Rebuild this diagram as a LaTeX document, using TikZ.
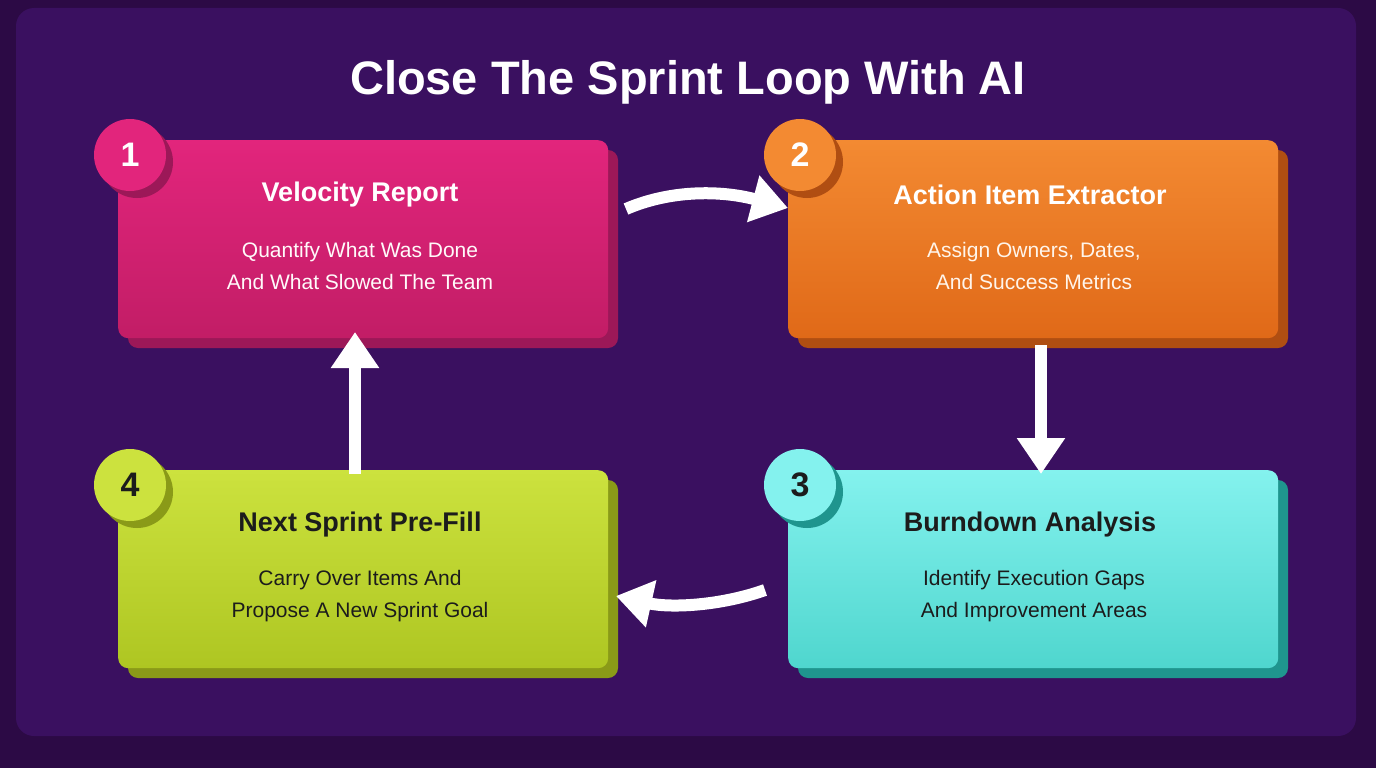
\documentclass[tikz,border=0pt]{standalone}
\usepackage{fontspec}
\setmainfont{Liberation Sans}
\usetikzlibrary{arrows.meta,positioning,shadows}
\definecolor{pagebg}{HTML}{2C0A45}
\definecolor{panelbg}{HTML}{3A1060}
\definecolor{pinkA}{HTML}{E2257C}\definecolor{pinkB}{HTML}{C21D66}\definecolor{pinkS}{HTML}{9C1858}
\definecolor{orgA}{HTML}{F38A32}\definecolor{orgB}{HTML}{E06918}\definecolor{orgS}{HTML}{B04E12}
\definecolor{cyaA}{HTML}{84F2EE}\definecolor{cyaB}{HTML}{4FD6CE}\definecolor{cyaS}{HTML}{1F958E}
\definecolor{limA}{HTML}{CCE23E}\definecolor{limB}{HTML}{AEC622}\definecolor{limS}{HTML}{8A9A18}
\definecolor{darktext}{HTML}{1C1C1C}
\tikzset{
  card/.style={rectangle, rounded corners=10pt, minimum width=490pt, minimum height=198pt, anchor=north west},
  badge/.style={circle, minimum size=72pt, font=\bfseries\fontsize{34}{34}\selectfont},
  cardtitle/.style={font=\bfseries\fontsize{27}{30}\selectfont},
  cardtext/.style={font=\fontsize{21}{32}\selectfont, align=center},
  flow/.style={white, line width=12pt, -{Triangle[length=36pt,width=46pt]}}
}
\newcommand{\stepcard}[9]{%
  % #1 name, #2 x, #3 y, #4 top, #5 bottom, #6 shadow, #7 text colour, #8 number, #9 title
  \fill[#6, rounded corners=10pt] (#2+10,#3+10) rectangle ++(490,198);
  \node[card, top color=#4, bottom color=#5] (#1) at (#2,#3) {};
  \fill[#6] (#2+12+7,#3+15+7) circle (36);
  \node[badge, fill=#4, text=#7] (#1num) at (#2+12,#3+15) {#8};
  \node[cardtitle, text=#7] (#1title) at (#2+242,#3+55) {#9};
}
\begin{document}
\begin{tikzpicture}[x=1pt,y=-1pt]
\useasboundingbox (0,0) rectangle (1376,768);
\fill[pagebg] (0,0) rectangle (1376,768);
\fill[panelbg, rounded corners=18pt] (16,8) rectangle (1356,736);

% Title
\node[text=white, font=\bfseries\fontsize{47}{50}\selectfont] (title) at (688,82) {Close The Sprint Loop With AI};

% Cards
\stepcard{velocity}{118}{140}{pinkA}{pinkB}{pinkS}{white}{1}{Velocity Report}
\stepcard{action}{788}{140}{orgA}{orgB}{orgS}{white}{2}{Action Item Extractor}
\stepcard{burn}{788}{470}{cyaA}{cyaB}{cyaS}{darktext}{3}{Burndown Analysis}
\stepcard{next}{118}{470}{limA}{limB}{limS}{darktext}{4}{Next Sprint Pre-Fill}

\node[cardtext, text=white!92!pink] at (360,266) {Quantify What Was Done\\And What Slowed The Team};
\node[cardtext, text=white!92!orange] at (1034,266) {Assign Owners, Dates,\\And Success Metrics};
\node[cardtext, text=darktext] at (1034,596) {Identify Execution Gaps\\And Improvement Areas};
\node[cardtext, text=darktext] at (360,596) {Carry Over Items And\\Propose A New Sprint Goal};

% Connectors
\coordinate (a1) at (626,209);
\coordinate (a2) at (788,208);
\coordinate (b1) at (1041,345);
\coordinate (b2) at (1041,474);
\coordinate (c1) at (765,590);
\coordinate (c2) at (616,596);
\coordinate (d1) at (355,474);
\coordinate (d2) at (355,332);
\draw[flow] (a1) .. controls (670,190) and (720,190) .. (a2);
\draw[flow] (b1) -- (b2);
\draw[flow] (c1) .. controls (720,606) and (670,608) .. (c2);
\draw[flow] (d1) -- (d2);
\end{tikzpicture}
\end{document}
